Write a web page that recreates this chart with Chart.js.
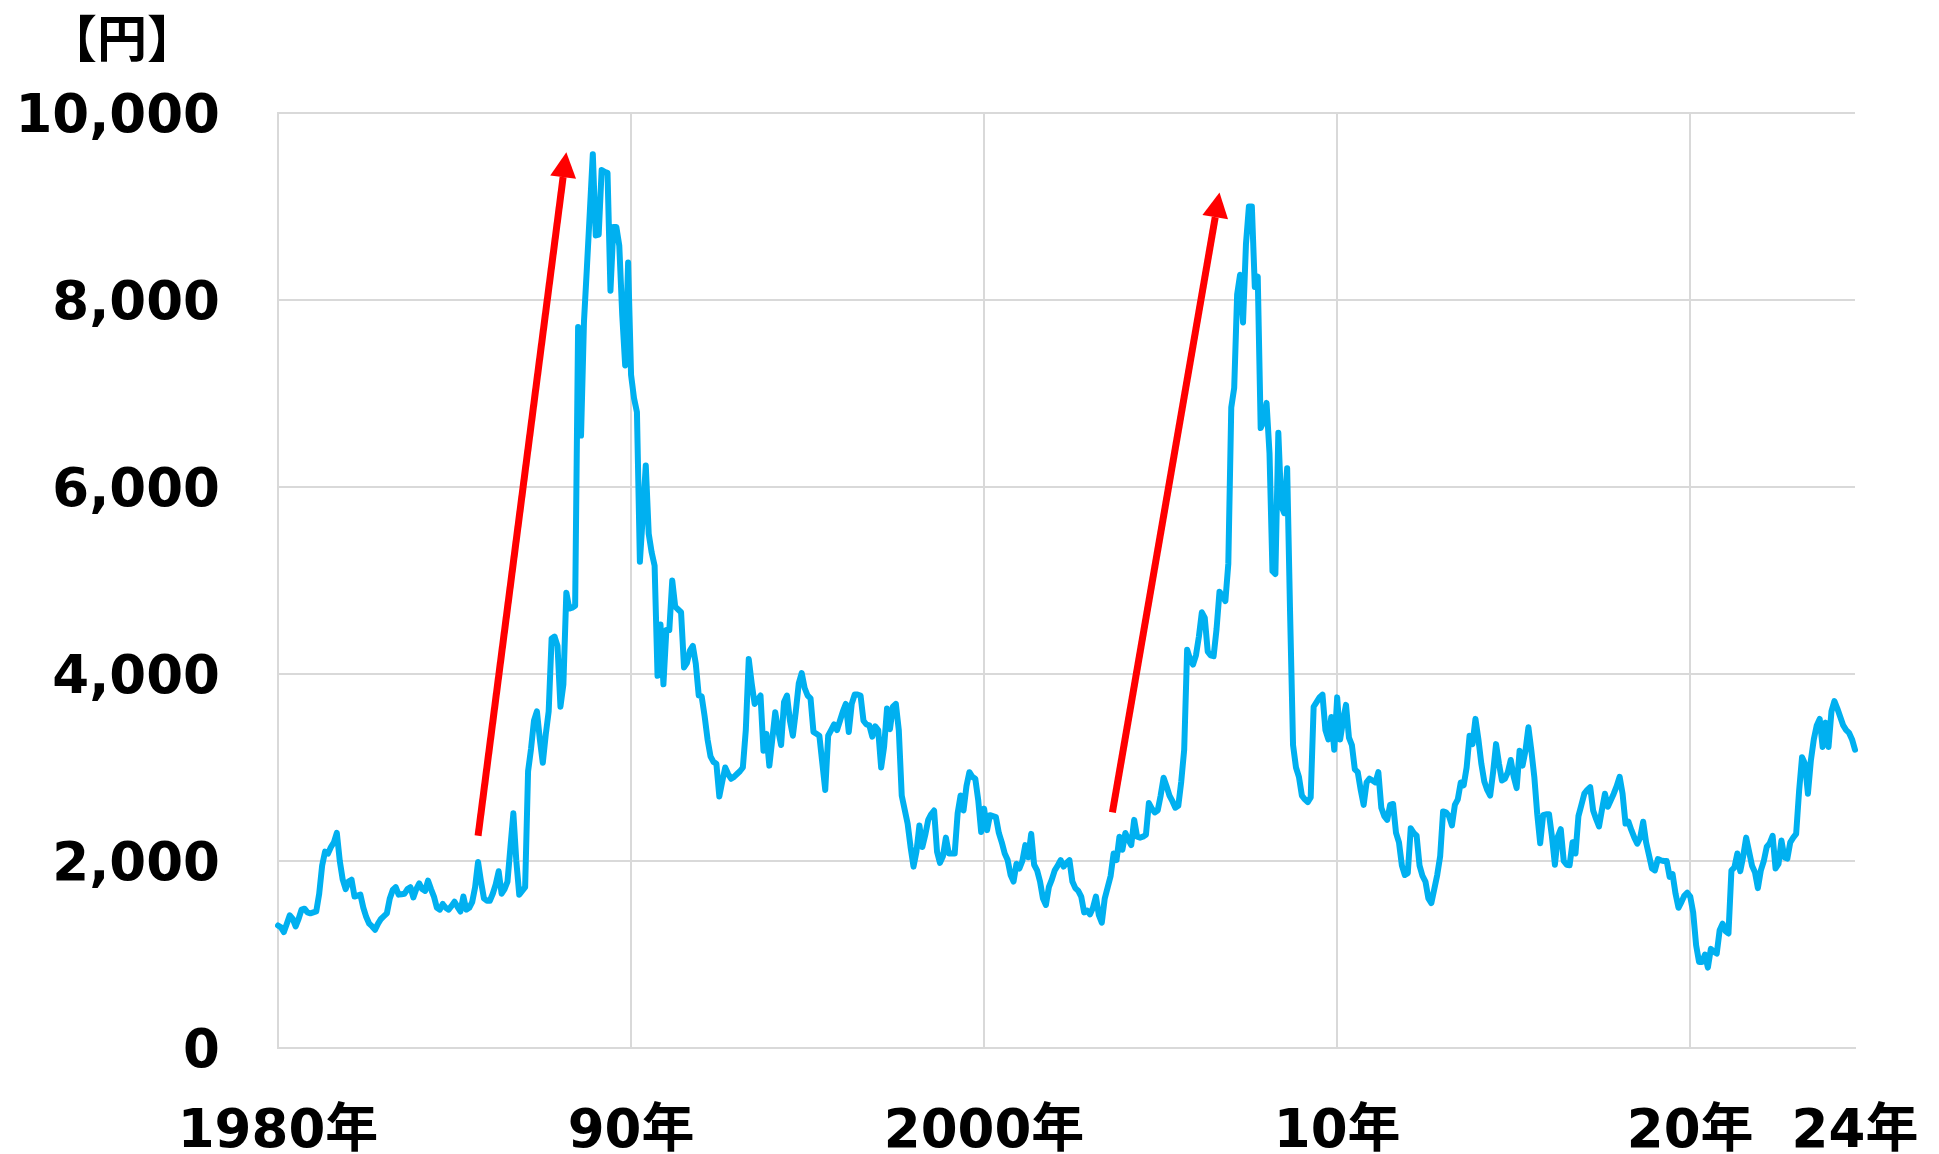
<!DOCTYPE html>
<html lang="ja">
<head>
<meta charset="utf-8">
<title>価格推移 1980年〜2024年</title>
<script src="https://cdn.jsdelivr.net/npm/chart.js@4.4.1/dist/chart.umd.min.js"></script>
<style>
  html, body { margin: 0; padding: 0; background: #ffffff; }
  canvas { display: block; }
</style>
</head>
<body>
<canvas id="chart" width="1939" height="1154"></canvas>
<script>
// Monthly prices (円), January 1980 – September 2024, one array per decade.
const v1980s = [
  1310, 1290, 1240, 1330, 1420, 1380, 1300, 1380, 1480, 1490, 1450, 1440,
  1450, 1460, 1650, 1950, 2100, 2080, 2150, 2200, 2300, 2000, 1800, 1700,
  1780, 1800, 1620, 1630, 1640, 1500, 1400, 1330, 1300, 1265, 1330, 1380,
  1410, 1440, 1600, 1690, 1720, 1640, 1645, 1650, 1700, 1720, 1610, 1700,
  1760, 1700, 1680, 1790, 1700, 1620, 1500, 1480, 1540, 1500, 1480, 1520,
  1565, 1510, 1460, 1620, 1480, 1500, 1560, 1720, 1990, 1780, 1600, 1575,
  1575, 1650, 1750, 1890, 1650, 1700, 1780, 2150, 2510, 2000, 1640, 1680,
  1720, 2960, 3200, 3500, 3600, 3300, 3050, 3350, 3600, 4380, 4400, 4300,
  3650, 3890, 4870, 4700, 4710, 4730, 7710, 6550, 7770, 8350, 8950, 9560,
  8690, 8700, 9390, 9370, 9360, 8100, 8780, 8780, 8580, 7840, 7300, 8400
];
const v1990s = [
  7200, 6950, 6800, 5200, 5700, 6230, 5500, 5300, 5160, 3980, 4530, 3890,
  4470, 4470, 5000, 4720, 4690, 4660, 4070, 4120, 4250, 4300, 4110, 3770,
  3760, 3550, 3300, 3120, 3060, 3040, 2690, 2850, 3000, 2930, 2880, 2900,
  2930, 2960, 3000, 3400, 4160, 3900, 3680, 3720, 3770, 3180, 3360, 3020,
  3300, 3590, 3400, 3240, 3700, 3770, 3500, 3340, 3600, 3900, 4010, 3850,
  3770, 3740, 3380, 3360, 3340, 3050, 2760, 3340, 3400, 3460, 3400, 3500,
  3600, 3680, 3380, 3680, 3780, 3780, 3770, 3500, 3460, 3450, 3330, 3440,
  3400, 3000, 3220, 3630, 3410, 3650, 3680, 3400, 2700, 2550, 2400, 2150,
  1940, 2100, 2380, 2150, 2280, 2440, 2500, 2540, 2100, 1980, 2050, 2250,
  2080, 2080, 2080, 2510, 2700, 2540, 2800, 2950, 2900, 2880, 2650, 2310
];
const v2000s = [
  2560, 2330, 2490, 2480, 2470, 2300, 2200, 2080, 2010, 1850, 1780, 1970,
  1920, 2000, 2170, 2040, 2290, 1960, 1900, 1780, 1600, 1530, 1720, 1800,
  1900, 1950, 2010, 1940, 1980, 2010, 1780, 1710, 1680, 1620, 1450, 1470,
  1430, 1500, 1620, 1420, 1340, 1600, 1720, 1840, 2080, 2010, 2260, 2120,
  2300, 2230, 2170, 2440, 2260, 2250, 2260, 2280, 2620, 2560, 2520, 2540,
  2700, 2890, 2800, 2700, 2640, 2570, 2590, 2850, 3190, 4260, 4160, 4100,
  4200, 4400, 4660, 4600, 4240, 4200, 4190, 4480, 4880, 4830, 4780, 5180,
  6850, 7060, 8060, 8270, 7760, 8600, 9000, 9000, 8140, 8250, 6630, 6700,
  6900, 6360, 5100, 5070, 6580, 5800, 5720, 6200, 4640, 3240, 3000, 2900,
  2700, 2660, 2630, 2680, 3650, 3700, 3750, 3780, 3400, 3300, 3540, 3190
];
const v2010s = [
  3750, 3300, 3500, 3670, 3320, 3240, 2980, 2950, 2760, 2600, 2840, 2880,
  2860, 2840, 2950, 2570, 2480, 2440, 2600, 2610, 2300, 2200, 1950, 1850,
  1870, 2350, 2300, 2270, 1950, 1840, 1780, 1600, 1550, 1700, 1850, 2050,
  2530, 2520, 2480, 2380, 2600, 2660, 2840, 2810, 3000, 3340, 3250, 3520,
  3300, 3040, 2850, 2760, 2700, 2950, 3250, 3040, 2860, 2880, 2950, 3080,
  2900, 2780, 3180, 3020, 3180, 3430, 3180, 2900, 2500, 2190, 2490, 2500,
  2500, 2260, 1960, 2260, 2340, 2000, 1960, 1955, 2200, 2080, 2480, 2600,
  2720, 2760, 2790, 2540, 2450, 2370, 2550, 2720, 2580, 2650, 2720, 2800,
  2900, 2720, 2400, 2420, 2330, 2250, 2185, 2250, 2420, 2200, 2060, 1920,
  1900, 2020, 2007, 2000, 2000, 1830, 1860, 1650, 1500, 1560, 1630, 1660
];
const v2020s = [
  1620, 1450, 1100,  920,  920, 1000,  860, 1060, 1030, 1010, 1260, 1330,
  1250, 1225, 1900, 1930, 2080, 1890, 2050, 2250, 2100, 1950, 1880, 1710,
  1900, 2000, 2150, 2190, 2270, 1920, 1970, 2220, 2040, 2025, 2200, 2250,
  2290, 2750, 3110, 3040, 2720, 3075, 3300, 3450, 3520, 3220, 3480, 3220,
  3600, 3710, 3630, 3540, 3450, 3400, 3370, 3300, 3190
];
const prices = [...v1980s, ...v1990s, ...v2000s, ...v2010s, ...v2020s];

// Category labels: one per month.
const months = prices.map((_, i) => `${1980 + Math.floor(i / 12)}/${(i % 12) + 1}`);

// Axis ticks.
const xTickIndex = [0, 120, 240, 360, 480, prices.length - 1];
const xTickText = ['1980年', '90年', '2000年', '10年', '20年', '24年'];
const yTicks = [0, 2000, 4000, 6000, 8000, 10000];
const unitLabel = '【円】';

// Red rise arrows, in [month index, price] terms.
const arrowFrom = [[68, 2270], [283.6, 2520]];
const arrowTo   = [[98, 9580], [320, 9150]];

const GRID = '#d9d9d9';
const FONT = "'DejaVu Sans', 'Noto Sans CJK JP', sans-serif";

const overlay = {
  id: 'overlay',
  afterDatasetsDraw(chart) {
    const { ctx, scales: { x, y } } = chart;
    ctx.save();
    ctx.strokeStyle = '#ff0000';
    ctx.fillStyle = '#ff0000';
    ctx.lineWidth = 7;
    arrowFrom.forEach((from, k) => {
      const to = arrowTo[k];
      const x0 = x.getPixelForValue(from[0]), y0 = y.getPixelForValue(from[1]);
      const x1 = x.getPixelForValue(to[0]), y1 = y.getPixelForValue(to[1]);
      const ang = Math.atan2(y1 - y0, x1 - x0);
      const headLen = 25, headHalf = 13;
      const bx = x1 - headLen * Math.cos(ang), by = y1 - headLen * Math.sin(ang);
      ctx.beginPath();
      ctx.moveTo(x0, y0);
      ctx.lineTo(bx, by);
      ctx.stroke();
      ctx.beginPath();
      ctx.moveTo(x1, y1);
      ctx.lineTo(bx + headHalf * Math.sin(ang), by - headHalf * Math.cos(ang));
      ctx.lineTo(bx - headHalf * Math.sin(ang), by + headHalf * Math.cos(ang));
      ctx.closePath();
      ctx.fill();
    });
    // unit caption above the value axis
    ctx.fillStyle = '#000000';
    ctx.font = "bold 50px 'Noto Sans CJK JP', sans-serif";
    ctx.textAlign = 'center';
    ctx.textBaseline = 'middle';
    ctx.fillText(unitLabel, 122, 38);
    ctx.restore();
  }
};

Chart.defaults.font.family = FONT;

new Chart(document.getElementById('chart'), {
  type: 'line',
  data: {
    labels: months,
    datasets: [{
      data: prices,
      borderColor: '#00b0f0',
      borderWidth: 6,
      borderJoinStyle: 'round',
      borderCapStyle: 'round',
      pointRadius: 0,
      tension: 0,
      fill: false
    }]
  },
  options: {
    responsive: false,
    devicePixelRatio: 1,
    animation: false,
    layout: { padding: { top: 113, right: 84, bottom: 0, left: 0 } },
    plugins: { legend: { display: false }, tooltip: { enabled: false } },
    scales: {
      x: {
        type: 'category',
        offset: false,
        grid: {
          color: c => (c.tick && c.tick.value === prices.length - 1) ? 'rgba(0,0,0,0)' : GRID,
          lineWidth: 2,
          drawTicks: false
        },
        border: { color: GRID, width: 2 },
        ticks: {
          autoSkip: false,
          maxRotation: 0,
          minRotation: 0,
          padding: 53,
          color: '#000000',
          font: { size: 53, weight: 'bold' },
          callback: (v, i) => xTickText[i]
        },
        afterBuildTicks: s => { s.ticks = xTickIndex.map(v => ({ value: v })); },
        afterFit: s => { s.paddingLeft = 0; s.paddingRight = 0; s.height = 106; }
      },
      y: {
        min: 0,
        max: 10000,
        grid: { color: GRID, lineWidth: 2, drawTicks: false },
        border: { color: GRID, width: 2 },
        ticks: {
          padding: 58,
          labelOffset: 5,
          color: '#000000',
          font: { size: 53, weight: 'bold' },
          callback: v => v.toLocaleString('en-US')
        },
        afterBuildTicks: s => { s.ticks = yTicks.map(v => ({ value: v })); },
        afterFit: s => { s.width = 278; s.paddingTop = 0; s.paddingBottom = 0; }
      }
    }
  },
  plugins: [overlay]
});
</script>
</body>
</html>
